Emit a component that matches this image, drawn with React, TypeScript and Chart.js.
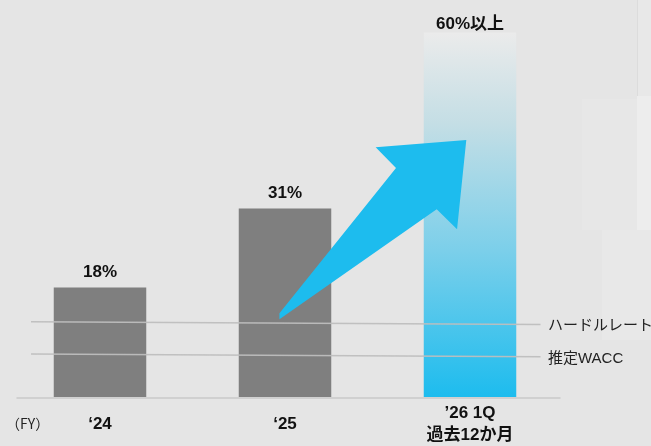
import React, { useEffect, useRef } from "react";
import { Chart, registerables } from "chart.js";

Chart.register(...registerables);

const categories: string[][] = [["‘24"], ["‘25"], ["’26 1Q", "過去12か月"]];
const values: number[] = [18, 31, 60];
const valueLabels: string[] = ["18%", "31%", "60%以上"];
const refValues: number[] = [12.3, 7.0];
const refLabels: string[] = ["ハードルレート", "推定WACC"];
const axisUnit = "（FY）";

const FONT = "'Liberation Sans', Arial, 'Noto Sans CJK JP', sans-serif";

const overlayPlugin = {
  id: "overlay",
  afterDatasetsDraw(chart: any) {
    const { ctx, chartArea } = chart;
    const xs = chart.scales.x;
    const ys = chart.scales.y;
    const x0 = xs.getPixelForValue(0);
    const step = xs.getPixelForValue(1) - x0;
    const fx = (t: number) => x0 + step * t;
    const base = ys.getPixelForValue(0);

    ctx.save();
    // baseline
    ctx.strokeStyle = "#d0d0d0";
    ctx.lineWidth = 2;
    ctx.beginPath();
    ctx.moveTo(chartArea.left + 9, base + 1);
    ctx.lineTo(chartArea.right - 2, base + 1);
    ctx.stroke();

    // reference lines
    refValues.forEach((v, i) => {
      const y = ys.getPixelForValue(v);
      ctx.strokeStyle = "rgba(190,190,190,0.95)";
      ctx.lineWidth = 1.5;
      ctx.beginPath();
      ctx.moveTo(chartArea.left + 23.5, y - 0.5);
      ctx.lineTo(chartArea.right - 22, y + 2.2);
      ctx.stroke();
      ctx.fillStyle = "#222";
      ctx.font = `15px ${FONT}`;
      ctx.textAlign = "left";
      ctx.textBaseline = "middle";
      ctx.fillText(refLabels[i], chartArea.right - 14.5, y + 4);
    });

    // arrow (relative to bar positions, in value units)
    const arrow: [number, number][] = [
      [0.97, 12.8],
      [0.97, 13.8],
      [1.6, 37.7],
      [1.49, 41.1],
      [1.98, 42.3],
      [1.93, 27.6],
      [1.82, 30.9],
    ];
    ctx.fillStyle = "#1dbcee";
    ctx.beginPath();
    arrow.forEach(([t, v], i) => {
      const px = fx(t);
      const py = ys.getPixelForValue(v);
      if (i === 0) ctx.moveTo(px, py);
      else ctx.lineTo(px, py);
    });
    ctx.closePath();
    ctx.fill();

    // value labels
    ctx.fillStyle = "#111";
    ctx.font = `bold 17px ${FONT}`;
    ctx.textAlign = "center";
    ctx.textBaseline = "alphabetic";
    values.forEach((v, i) => {
      const px = xs.getPixelForValue(i);
      const py = ys.getPixelForValue(v);
      ctx.fillText(valueLabels[i], px, py - (i === 2 ? 3 : 11));
    });

    // category labels
    ctx.textBaseline = "middle";
    categories.forEach((lines, i) => {
      const px = xs.getPixelForValue(i);
      const n = lines.length;
      lines.forEach((l, j) => {
        const py = base + 27 + (j - (n - 1) / 2) * 22;
        ctx.fillText(l, px, py);
      });
    });

    ctx.font = `14px 'Noto Sans CJK JP', ${FONT}`;
    ctx.fillStyle = "#222";
    ctx.textAlign = "left";
    ctx.fillText(axisUnit, chartArea.left - 1.5, base + 27);
    ctx.restore();
  },
};

export default function App() {
  const ref = useRef<HTMLCanvasElement>(null);
  useEffect(() => {
    const canvas = ref.current;
    if (!canvas) return;
    const chart = new Chart(canvas, {
      type: "bar",
      data: {
        labels: categories,
        datasets: [
          {
            data: values,
            backgroundColor: (c: any) => {
              const ch = c.chart;
              const area = ch.chartArea;
              if (c.dataIndex !== 2) return "#7f7f7f";
              if (!area) return "#1dbcee";
              const ys = ch.scales.y;
              const top = ys.getPixelForValue(values[2]);
              const bottom = ys.getPixelForValue(0);
              const g = ch.ctx.createLinearGradient(0, top, 0, bottom);
              g.addColorStop(0, "#ebebeb");
              g.addColorStop(0.25, "#c4dee5");
              g.addColorStop(0.6, "#7bcfea");
              g.addColorStop(1, "#1dbcee");
              return g;
            },
            borderWidth: 0,
            barPercentage: 1,
            categoryPercentage: 0.5,
          },
        ],
      },
      options: {
        responsive: false,
        animation: false,
        layout: { padding: { left: 7.5, right: 88.5, top: 2, bottom: 49 } },
        plugins: { legend: { display: false }, tooltip: { enabled: false } },
        scales: {
          x: { display: false },
          y: { display: false, min: 0, max: 65 },
        },
      },
      plugins: [overlayPlugin],
    });
    return () => chart.destroy();
  }, []);

  const block = (s: React.CSSProperties) => (
    <div style={{ position: "absolute", ...s }} />
  );

  return (
    <div
      style={{
        position: "absolute",
        left: 0,
        top: 0,
        width: 651,
        height: 446,
        background: "#e5e5e5",
        overflow: "hidden",
      }}
    >
      {block({ left: 637, top: 0, width: 14, height: 96, background: "#e8e8e8", borderLeft: "1px solid #dcdcdc" })}
      {block({ left: 582, top: 99, width: 55, height: 131, background: "#e7e7e7" })}
      {block({ left: 637, top: 96, width: 14, height: 162, background: "#ededed" })}
      {block({ left: 602, top: 230, width: 49, height: 110, background: "#e8e8e8" })}
      <canvas
        ref={ref}
        width={651}
        height={446}
        style={{ position: "absolute", left: 0, top: 0 }}
      />
    </div>
  );
}
